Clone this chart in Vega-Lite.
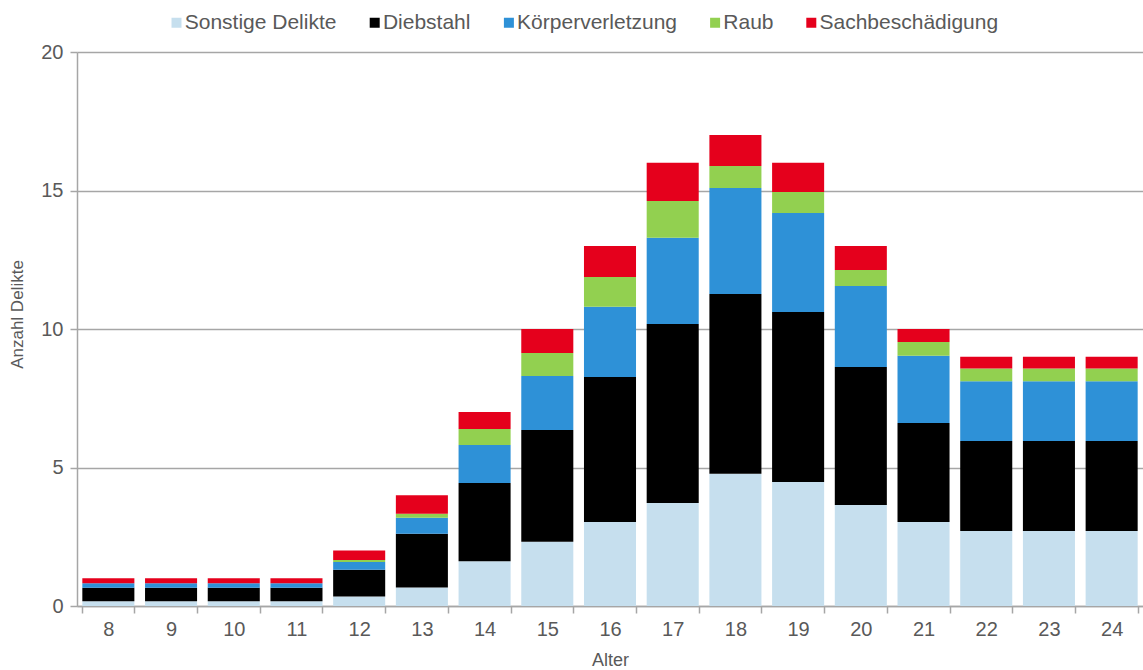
{
  "$schema": "https://vega.github.io/schema/vega-lite/v6.json",
  "width": 1066,
  "height": 554,
  "autosize": "none",
  "padding": {"left": 77, "top": 52, "right": 0, "bottom": 64},
  "background": "#ffffff",
  "config": {
    "font": "Liberation Sans",
    "view": {"stroke": null}
  },
  "data": {
    "values": [
      {"Alter": 8, "Delikt": "Sonstige Delikte", "Anzahl": 0.17},
      {"Alter": 8, "Delikt": "Diebstahl", "Anzahl": 0.49},
      {"Alter": 8, "Delikt": "Körperverletzung", "Anzahl": 0.16},
      {"Alter": 8, "Delikt": "Raub", "Anzahl": 0.0},
      {"Alter": 8, "Delikt": "Sachbeschädigung", "Anzahl": 0.18},
      {"Alter": 9, "Delikt": "Sonstige Delikte", "Anzahl": 0.17},
      {"Alter": 9, "Delikt": "Diebstahl", "Anzahl": 0.49},
      {"Alter": 9, "Delikt": "Körperverletzung", "Anzahl": 0.16},
      {"Alter": 9, "Delikt": "Raub", "Anzahl": 0.0},
      {"Alter": 9, "Delikt": "Sachbeschädigung", "Anzahl": 0.18},
      {"Alter": 10, "Delikt": "Sonstige Delikte", "Anzahl": 0.17},
      {"Alter": 10, "Delikt": "Diebstahl", "Anzahl": 0.49},
      {"Alter": 10, "Delikt": "Körperverletzung", "Anzahl": 0.16},
      {"Alter": 10, "Delikt": "Raub", "Anzahl": 0.0},
      {"Alter": 10, "Delikt": "Sachbeschädigung", "Anzahl": 0.18},
      {"Alter": 11, "Delikt": "Sonstige Delikte", "Anzahl": 0.17},
      {"Alter": 11, "Delikt": "Diebstahl", "Anzahl": 0.49},
      {"Alter": 11, "Delikt": "Körperverletzung", "Anzahl": 0.16},
      {"Alter": 11, "Delikt": "Raub", "Anzahl": 0.0},
      {"Alter": 11, "Delikt": "Sachbeschädigung", "Anzahl": 0.18},
      {"Alter": 12, "Delikt": "Sonstige Delikte", "Anzahl": 0.34},
      {"Alter": 12, "Delikt": "Diebstahl", "Anzahl": 0.97},
      {"Alter": 12, "Delikt": "Körperverletzung", "Anzahl": 0.28},
      {"Alter": 12, "Delikt": "Raub", "Anzahl": 0.07},
      {"Alter": 12, "Delikt": "Sachbeschädigung", "Anzahl": 0.34},
      {"Alter": 13, "Delikt": "Sonstige Delikte", "Anzahl": 0.67},
      {"Alter": 13, "Delikt": "Diebstahl", "Anzahl": 1.94},
      {"Alter": 13, "Delikt": "Körperverletzung", "Anzahl": 0.58},
      {"Alter": 13, "Delikt": "Raub", "Anzahl": 0.14},
      {"Alter": 13, "Delikt": "Sachbeschädigung", "Anzahl": 0.67},
      {"Alter": 14, "Delikt": "Sonstige Delikte", "Anzahl": 1.62},
      {"Alter": 14, "Delikt": "Diebstahl", "Anzahl": 2.82},
      {"Alter": 14, "Delikt": "Körperverletzung", "Anzahl": 1.37},
      {"Alter": 14, "Delikt": "Raub", "Anzahl": 0.58},
      {"Alter": 14, "Delikt": "Sachbeschädigung", "Anzahl": 0.61},
      {"Alter": 15, "Delikt": "Sonstige Delikte", "Anzahl": 2.32},
      {"Alter": 15, "Delikt": "Diebstahl", "Anzahl": 4.03},
      {"Alter": 15, "Delikt": "Körperverletzung", "Anzahl": 1.95},
      {"Alter": 15, "Delikt": "Raub", "Anzahl": 0.83},
      {"Alter": 15, "Delikt": "Sachbeschädigung", "Anzahl": 0.87},
      {"Alter": 16, "Delikt": "Sonstige Delikte", "Anzahl": 3.03},
      {"Alter": 16, "Delikt": "Diebstahl", "Anzahl": 5.24},
      {"Alter": 16, "Delikt": "Körperverletzung", "Anzahl": 2.53},
      {"Alter": 16, "Delikt": "Raub", "Anzahl": 1.08},
      {"Alter": 16, "Delikt": "Sachbeschädigung", "Anzahl": 1.12},
      {"Alter": 17, "Delikt": "Sonstige Delikte", "Anzahl": 3.72},
      {"Alter": 17, "Delikt": "Diebstahl", "Anzahl": 6.46},
      {"Alter": 17, "Delikt": "Körperverletzung", "Anzahl": 3.11},
      {"Alter": 17, "Delikt": "Raub", "Anzahl": 1.33},
      {"Alter": 17, "Delikt": "Sachbeschädigung", "Anzahl": 1.38},
      {"Alter": 18, "Delikt": "Sonstige Delikte", "Anzahl": 4.77},
      {"Alter": 18, "Delikt": "Diebstahl", "Anzahl": 6.49},
      {"Alter": 18, "Delikt": "Körperverletzung", "Anzahl": 3.83},
      {"Alter": 18, "Delikt": "Raub", "Anzahl": 0.79},
      {"Alter": 18, "Delikt": "Sachbeschädigung", "Anzahl": 1.12},
      {"Alter": 19, "Delikt": "Sonstige Delikte", "Anzahl": 4.48},
      {"Alter": 19, "Delikt": "Diebstahl", "Anzahl": 6.13},
      {"Alter": 19, "Delikt": "Körperverletzung", "Anzahl": 3.58},
      {"Alter": 19, "Delikt": "Raub", "Anzahl": 0.76},
      {"Alter": 19, "Delikt": "Sachbeschädigung", "Anzahl": 1.05},
      {"Alter": 20, "Delikt": "Sonstige Delikte", "Anzahl": 3.65},
      {"Alter": 20, "Delikt": "Diebstahl", "Anzahl": 4.98},
      {"Alter": 20, "Delikt": "Körperverletzung", "Anzahl": 2.92},
      {"Alter": 20, "Delikt": "Raub", "Anzahl": 0.58},
      {"Alter": 20, "Delikt": "Sachbeschädigung", "Anzahl": 0.87},
      {"Alter": 21, "Delikt": "Sonstige Delikte", "Anzahl": 3.03},
      {"Alter": 21, "Delikt": "Diebstahl", "Anzahl": 3.58},
      {"Alter": 21, "Delikt": "Körperverletzung", "Anzahl": 2.42},
      {"Alter": 21, "Delikt": "Raub", "Anzahl": 0.5},
      {"Alter": 21, "Delikt": "Sachbeschädigung", "Anzahl": 0.47},
      {"Alter": 22, "Delikt": "Sonstige Delikte", "Anzahl": 2.71},
      {"Alter": 22, "Delikt": "Diebstahl", "Anzahl": 3.25},
      {"Alter": 22, "Delikt": "Körperverletzung", "Anzahl": 2.15},
      {"Alter": 22, "Delikt": "Raub", "Anzahl": 0.46},
      {"Alter": 22, "Delikt": "Sachbeschädigung", "Anzahl": 0.43},
      {"Alter": 23, "Delikt": "Sonstige Delikte", "Anzahl": 2.71},
      {"Alter": 23, "Delikt": "Diebstahl", "Anzahl": 3.25},
      {"Alter": 23, "Delikt": "Körperverletzung", "Anzahl": 2.15},
      {"Alter": 23, "Delikt": "Raub", "Anzahl": 0.46},
      {"Alter": 23, "Delikt": "Sachbeschädigung", "Anzahl": 0.43},
      {"Alter": 24, "Delikt": "Sonstige Delikte", "Anzahl": 2.71},
      {"Alter": 24, "Delikt": "Diebstahl", "Anzahl": 3.25},
      {"Alter": 24, "Delikt": "Körperverletzung", "Anzahl": 2.15},
      {"Alter": 24, "Delikt": "Raub", "Anzahl": 0.46},
      {"Alter": 24, "Delikt": "Sachbeschädigung", "Anzahl": 0.43}
    ]
  },
  "mark": {"type": "bar"},
  "encoding": {
    "x": {
      "field": "Alter",
      "type": "ordinal",
      "sort": "ascending",
      "scale": {"paddingInner": 0.17, "paddingOuter": 0.085},
      "axis": {
        "title": "Alter",
        "titleFont": "Liberation Sans",
        "titleFontSize": 18,
        "titleFontWeight": "normal",
        "titleColor": "#595959",
        "titlePadding": 12,
        "labelAngle": 0,
        "labelFontSize": 20,
        "labelColor": "#595959",
        "labelPadding": 6,
        "tickBand": "extent",
        "tickSize": 7,
        "tickColor": "#a6a6a6",
        "domainColor": "#a6a6a6",
        "domainWidth": 1.5,
        "tickWidth": 1.5
      }
    },
    "y": {
      "field": "Anzahl",
      "type": "quantitative",
      "aggregate": "sum",
      "stack": "zero",
      "scale": {"domain": [0, 20], "nice": false},
      "axis": {
        "title": "Anzahl Delikte",
        "titleFont": "Liberation Sans",
        "titleFontSize": 17,
        "titleFontWeight": "normal",
        "titleColor": "#595959",
        "titlePadding": 14,
        "titleY": 262,
        "values": [0, 5, 10, 15, 20],
        "labelFontSize": 20,
        "labelColor": "#595959",
        "labelPadding": 7,
        "tickSize": 7,
        "tickColor": "#a6a6a6",
        "tickWidth": 1.5,
        "domainColor": "#a6a6a6",
        "domainWidth": 1.5,
        "grid": true,
        "gridColor": "#a6a6a6",
        "gridWidth": 1.5
      }
    },
    "color": {
      "field": "Delikt",
      "type": "nominal",
      "scale": {
        "domain": ["Sonstige Delikte", "Diebstahl", "Körperverletzung", "Raub", "Sachbeschädigung"],
        "range": ["#c6dfee", "#000000", "#2e91d7", "#92d050", "#e5001c"]
      },
      "legend": {
        "title": null,
        "orient": "none",
        "direction": "horizontal",
        "legendX": 89,
        "legendY": -40,
        "symbolType": "square",
        "symbolSize": 100,
        "symbolStrokeWidth": 0,
        "labelFontSize": 21,
        "labelColor": "#595959",
        "labelOffset": -2.3,
        "columnPadding": 27.2,
        "labelLimit": 400
      }
    },
    "order": {"field": "idx", "type": "quantitative"}
  },
  "transform": [
    {
      "calculate": "indexof(['Sonstige Delikte','Diebstahl','Körperverletzung','Raub','Sachbeschädigung'], datum.Delikt)",
      "as": "idx"
    }
  ]
}
